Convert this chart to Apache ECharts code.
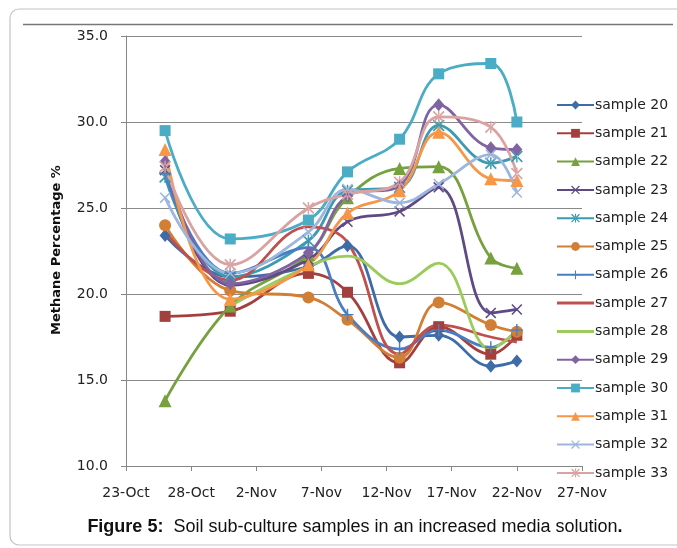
<!DOCTYPE html>
<html>
<head>
<meta charset="utf-8">
<script src="https://cdn.jsdelivr.net/npm/echarts@6/dist/echarts.min.js"></script>
<style>
html,body{margin:0;padding:0;background:#fff;}
#chart{width:677px;height:548px;}
</style>
</head>
<body>
<div id="chart"></div>
<script>
// ---- data ----
const startDate = '2012-10-23';
const dates = ['2012-10-26','2012-10-31','2012-11-06','2012-11-09','2012-11-13','2012-11-16','2012-11-20','2012-11-22'];
const tickLabels = ['23-Oct','28-Oct','2-Nov','7-Nov','12-Nov','17-Nov','22-Nov','27-Nov'];
const seriesNames = ['sample 20','sample 21','sample 22','sample 23','sample 24','sample 25','sample 26','sample 27','sample 28','sample 29','sample 30','sample 31','sample 32','sample 33'];
const s20 = [23.4, 21.0, 21.6, 22.8, 17.5, 17.6, 15.8, 16.1];
const s21 = [18.7, 19.0, 21.2, 20.1, 16.0, 18.1, 16.5, 17.6];
const s22 = [13.8, 19.3, 22.3, 25.6, 27.3, 27.4, 22.1, 21.5];
const s23 = [27.2, 20.5, 22.0, 24.2, 24.8, 26.2, 18.9, 19.1];
const s24 = [26.8, 21.0, 23.1, 26.0, 26.2, 29.8, 27.6, 28.0];
const s25 = [24.0, 20.2, 19.8, 18.5, 16.3, 19.5, 18.2, 17.8];
const s26 = [27.0, 21.2, 22.7, 18.8, 16.8, 17.9, 16.9, 17.9];
const s27 = [23.6, 20.8, 23.9, 23.0, 16.5, 18.2, 17.5, 17.2];
const s28 = [null, 19.3, 21.6, 22.2, 20.6, 21.8, 16.8, 17.9];
const s29 = [27.7, 20.6, 22.4, 25.7, 26.3, 31.0, 28.5, 28.4];
const s30 = [29.5, 23.2, 24.3, 27.1, 29.0, 32.8, 33.4, 30.0];
const s31 = [28.4, 19.7, 21.7, 24.7, 26.0, 29.4, 26.7, 26.6];
const s32 = [25.6, 21.2, 23.6, 26.1, 25.3, 26.4, 28.1, 25.9];
const s33 = [27.4, 21.7, 25.0, 25.8, 26.5, 30.3, 29.7, 27.0];
const allValues = [s20,s21,s22,s23,s24,s25,s26,s27,s28,s29,s30,s31,s32,s33];

// ---- styles ----
const colors = ['#3D6CA8','#A3403D','#77A03F','#5F4A85','#3C9BB0','#D27F36','#4A7EC4','#C0504D','#9BCB5A','#8064A2','#4BACC6','#F79646','#9DB6DD','#D9A3A2'];
const X = 'path://M0,1 L1,0 L5,4 L9,0 L10,1 L6,5 L10,9 L9,10 L5,6 L1,10 L0,9 L4,5 Z';
const STAR = 'path://M0,1 L1,0 L5,4 L9,0 L10,1 L6,5 L10,9 L9,10 L5,6 L1,10 L0,9 L4,5 Z M4.4,0 L4.4,10 L5.6,10 L5.6,0 Z';
const PLUS = 'path://M4.4,0 L5.6,0 L5.6,4.4 L10,4.4 L10,5.6 L5.6,5.6 L5.6,10 L4.4,10 L4.4,5.6 L0,5.6 L0,4.4 L4.4,4.4 Z';
const LINEICON = 'path://M0,0 L37,0 L37,3 L0,3 Z';
const symbols = ['diamond','rect','triangle',X,STAR,'circle',PLUS,'none','none','diamond','rect','triangle',X,STAR];
const sizes = [[11,13],11,13,11,12,12,12,0,0,[11,13],11,13,11,12];

const DAY = 86400000;
const t0 = Date.parse(startDate);
const xs = dates.map(d => Math.round((Date.parse(d) - t0) / DAY));

const series = seriesNames.map((name, i) => ({
  name: name,
  type: 'line',
  smooth: 0.4,
  connectNulls: false,
  symbol: symbols[i],
  symbolSize: sizes[i],
  symbolKeepAspect: true,
  showSymbol: symbols[i] !== 'none',
  lineStyle: {width: 2.8, color: colors[i]},
  itemStyle: {color: colors[i], borderWidth: 0},
  emphasis: {disabled: true},
  data: xs.map((x, k) => [x, allValues[i][k]])
}));

const legendData = seriesNames.map((n, i) => symbols[i] === 'none' ? {name: n, icon: LINEICON} : {name: n});

const chart = echarts.init(document.getElementById('chart'), null, {renderer: 'canvas'});
chart.setOption({
  animation: false,
  backgroundColor: '#fff',
  textStyle: {fontFamily: 'DejaVu Sans'},
  grid: {left: 126, right: 95, top: 36, bottom: 82, containLabel: false},
  xAxis: {
    type: 'value', min: 0, max: 35, interval: 5,
    axisLine: {show: true, lineStyle: {color: '#868686', width: 1}},
    axisTick: {show: true, length: 5, lineStyle: {color: '#868686'}},
    splitLine: {show: false},
    axisLabel: {color: '#222', fontSize: 14, margin: 20, fontFamily: 'DejaVu Sans',
      formatter: v => tickLabels[Math.round(v / 5)] || ''}
  },
  yAxis: {
    type: 'value', min: 10, max: 35, interval: 5,
    axisLine: {show: true, lineStyle: {color: '#868686', width: 1}},
    axisTick: {show: true, length: 5, lineStyle: {color: '#868686'}},
    splitLine: {show: true, lineStyle: {color: '#8a8a8a', width: 1}},
    axisLabel: {color: '#222', fontSize: 14, margin: 18, fontFamily: 'DejaVu Sans',
      formatter: v => v.toFixed(1)}
  },
  legend: {
    orient: 'vertical', left: 551, top: 93,
    itemWidth: 37, itemHeight: 11, itemGap: 14.3,
    textStyle: {color: '#222', fontSize: 14, fontFamily: 'DejaVu Sans', lineHeight: 14, padding: [0,0,0,-4]},
    data: legendData
  },
  graphic: [
    {type: 'rect', shape: {x: 10, y: 9, width: 690, height: 536, r: 9}, style: {fill: 'none', stroke: '#c4c4c4', lineWidth: 1.2}, z: -1},
    {type: 'line', shape: {x1: 23, y1: 24.5, x2: 673, y2: 24.5}, style: {stroke: '#777', lineWidth: 1.6}},
    {type: 'text', x: 57, y: 250, rotation: Math.PI / 2,
      style: {text: 'Methane Percentage %', fill: '#111', font: 'bold 13px "DejaVu Sans"', align: 'center', verticalAlign: 'middle'}},
    {type: 'text', x: 355, y: 527,
      style: {
        text: '{b|Figure 5:}  Soil sub-culture samples in an increased media solution{b|.}',
        rich: {b: {fontWeight: 'bold', fontSize: 18, fontFamily: 'Liberation Sans, Arial', fill: '#111'}},
        fontSize: 18, fontFamily: 'Liberation Sans, Arial', fill: '#111', align: 'center', verticalAlign: 'middle'
      }}
  ],
  series: series
});
</script>
</body>
</html>
